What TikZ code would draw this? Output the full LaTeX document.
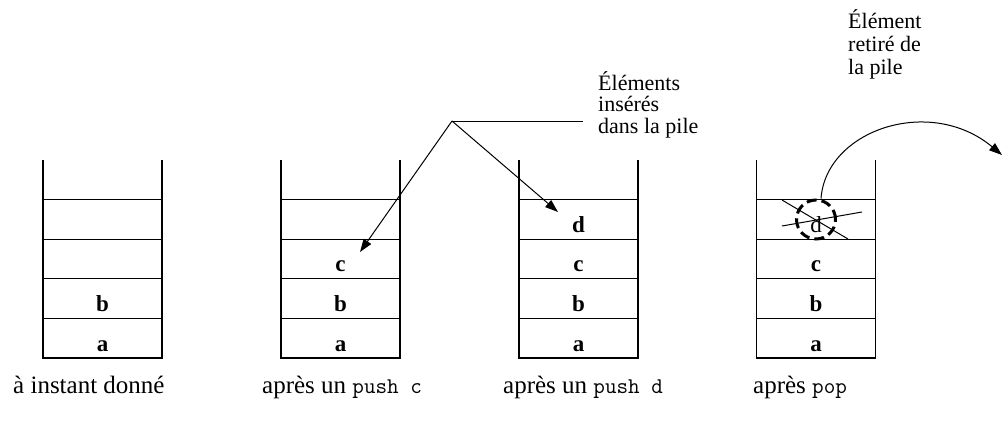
\documentclass[tikz,border=0pt]{standalone}
\usepackage{fontspec}
\setmainfont{Liberation Serif}
\usetikzlibrary{arrows.meta}
\begin{document}
\begin{tikzpicture}[x=1pt,y=-1pt,
  stk/.style={line width=1.2pt},
  cell/.style={font=\fontsize{23}{23}\selectfont\bfseries, anchor=base, inner sep=0pt},
  cellr/.style={font=\fontsize{23}{23}\selectfont, anchor=base, inner sep=0pt},
  lbl/.style={font=\fontsize{25}{28}\selectfont, anchor=base west, inner sep=0pt},
  note/.style={font=\fontsize{22}{22}\selectfont, anchor=base west, inner sep=0pt},
  arr/.style={line width=1pt, -{Triangle[length=13pt,width=9pt]}},
  thin/.style={line width=1pt}
]
\newcommand{\cd}[1]{{\fontsize{22.5}{22.5}\selectfont\ttfamily #1}}
\useasboundingbox (0,0) rectangle (1003,434);
% stacks
\foreach \L in {43,281,519,756.5}{
  \draw[stk] (\L,160) -- (\L,358) -- (\L+119,358) -- (\L+119,160);
  \foreach \y in {199.6,239.2,278.8,318.4}{
    \draw[stk] (\L,\y) -- (\L+119,\y);
  }
}
% cell contents
\node[cell] (s1b) at (102.5,311.4) {b};
\node[cell] (s1a) at (102.5,351) {a};
\node[cell] (s2c) at (340.5,271.8) {c};
\node[cell] (s2b) at (340.5,311.4) {b};
\node[cell] (s2a) at (340.5,351) {a};
\node[cell] (s3d) at (578.5,232.2) {d};
\node[cell] (s3c) at (578.5,271.8) {c};
\node[cell] (s3b) at (578.5,311.4) {b};
\node[cell] (s3a) at (578.5,351) {a};
\node[cellr] (s4d) at (816,232.2) {d};
\node[cell] (s4c) at (816,271.8) {c};
\node[cell] (s4b) at (816,311.4) {b};
\node[cell] (s4a) at (816,351) {a};
% bottom labels
\node[lbl] (l1) at (13,393) {à instant donné};
\node[lbl] (l2) at (262,393) {après un \cd{push c}};
\node[lbl] (l3) at (503,393) {après un \cd{push d}};
\node[lbl] (l4) at (753,393) {après \cd{pop}};
% notes
\node[note] (ins1) at (598,90) {Éléments};
\node[note] (ins2) at (598,111.5) {insérés};
\node[note] (ins3) at (598,133) {dans la pile};
\node[note] (ret1) at (848,28) {Élément};
\node[note] (ret2) at (848,51) {retiré de};
\node[note] (ret3) at (848,74) {la pile};
% insertion arrows
\coordinate (apex) at (452,121);
\coordinate (hend) at (583,121);
\coordinate (tipc) at (360,252);
\coordinate (tipd) at (558,212);
\draw[thin] (apex) -- (hend);
\draw[arr] (apex) -- (tipc);
\draw[arr] (apex) -- (tipd);
% removed element
\draw[thin] (782,200) -- (848,239);
\draw[thin] (782,226) -- (862,212);
\node[draw, circle, inner sep=0pt, minimum size=39pt, line width=3pt, dash pattern=on 10pt off 5pt] (circ) at (816,219.5) {};
\coordinate (cout) at (1002,155);
\draw[arr] ([xshift=5pt]circ.north) .. controls (826,130) and (930,95) .. (cout);
\end{tikzpicture}
\end{document}
